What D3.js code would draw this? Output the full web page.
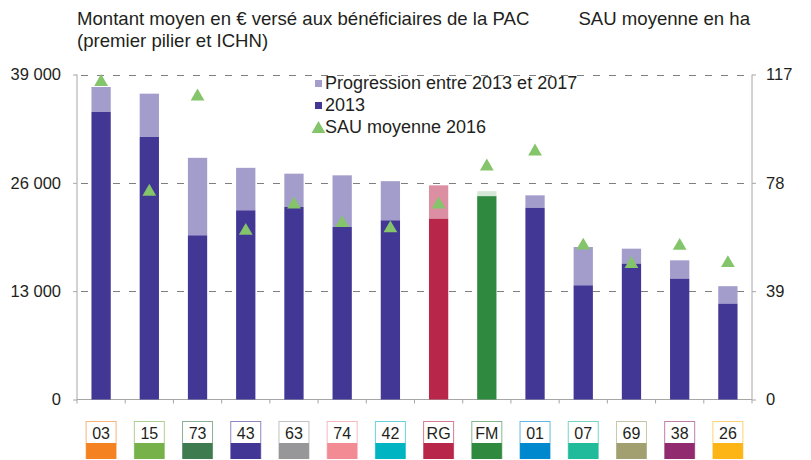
<!DOCTYPE html>
<html><head><meta charset="utf-8">
<script src="https://cdn.jsdelivr.net/npm/d3@7"></script>
<style>body{margin:0;background:#fff}svg{display:block}text{font-family:"Liberation Sans",Arial,sans-serif;fill:#231f20}</style>
</head><body><svg id="c" width="811" height="460"></svg>
<script>
const categories = ["03","15","73","43","63","74","42","RG","FM","01","07","69","38","26"];
const base2013   = [34500,31500,19700,22700,23100,20700,21500,21700,24400,23000,13700,16300,14500,11500];
const total2017  = [37500,36700,29000,27800,27100,26900,26200,25700,25000,24500,18300,18100,16700,13600];
const sau2016    = [114.3,74.8,109.1,60.7,70.2,63.5,61.6,70.2,83.9,89.3,55.4,48.8,55.3,49.1];
const leftTicks  = [0,13000,26000,39000];
const rightTicks = [0,39,78,117];
const boxColors  = ["#f58220","#77b14a","#3e7b4f","#433795","#97979a","#f28b94","#00b5c1","#b8274a","#2f8a3f","#0088cf","#1fbb9b","#a29f70","#922a6f","#fdb515"];
const baseColors = categories.map(c => c==="RG" ? "#b8274a" : c==="FM" ? "#2f8a3f" : "#433795");
const progColors = categories.map(c => c==="RG" ? "#dc8fa2" : c==="FM" ? "#d5e8d8" : "#a39dcb");
const legendItems = ["Progression entre 2013 et 2017","2013","SAU moyenne 2016"];

const svg = d3.select("#c");
const L = 77, R = 752, T = 74.5, B = 399.5;
const x = d3.scaleBand().domain(categories).range([L,R]).paddingInner(0.6).paddingOuter(0.3);
const y = d3.scaleLinear().domain([0,39000]).range([B,T]);
const y2 = d3.scaleLinear().domain([0,117]).range([B,T]);
const fmt = d => d3.format(",")(d).replace(/,/g," ");

// gridlines
svg.append("g").selectAll("line").data(leftTicks.filter(d=>d>0)).join("line")
  .attr("x1",L).attr("x2",R).attr("y1",d=>Math.round(y(d))+0.5).attr("y2",d=>Math.round(y(d))+0.5)
  .attr("stroke","#7f7f7f").attr("stroke-dasharray","7,9").attr("stroke-dashoffset",-4);

// axes
const axisCol = "#a6a6a6";
const gl = svg.append("g").attr("transform",`translate(${L},0)`)
  .call(d3.axisLeft(y).tickValues(leftTicks).tickFormat(fmt).tickSize(4).tickPadding(12));
const gr = svg.append("g").attr("transform",`translate(${R},0)`)
  .call(d3.axisRight(y2).tickValues(rightTicks).tickSize(4).tickPadding(10));
[gl,gr].forEach(g=>{
  g.select(".domain").attr("stroke",axisCol).attr("d", `M0,${T}V${B}`);
  g.selectAll(".tick line").attr("stroke",axisCol);
  g.selectAll(".tick text").attr("font-size",16.5).style("font-family","'Liberation Sans',Arial,sans-serif").attr("fill","#231f20");
});
// bottom axis
svg.append("line").attr("x1",L).attr("x2",R).attr("y1",B).attr("y2",B).attr("stroke",axisCol);
svg.append("g").selectAll("line").data(d3.range(categories.length+1)).join("line")
  .attr("x1",i=>L+i*x.step()).attr("x2",i=>L+i*x.step()).attr("y1",B).attr("y2",B+4).attr("stroke",axisCol);

// bars
const bars = svg.append("g");
categories.forEach((c,i)=>{
  bars.append("rect").attr("x",x(c)).attr("width",x.bandwidth())
    .attr("y",y(total2017[i])).attr("height",y(base2013[i])-y(total2017[i]))
    .attr("fill",progColors[i]);
  bars.append("rect").attr("x",x(c)).attr("width",x.bandwidth())
    .attr("y",y(base2013[i])).attr("height",B-y(base2013[i]))
    .attr("fill",baseColors[i]);
});

// triangles
const tri = d3.symbol().type(d3.symbolTriangle).size(82);
svg.append("g").selectAll("path").data(categories).join("path")
  .attr("d",tri).attr("fill","#84c46a")
  .attr("transform",(c,i)=>`translate(${x(c)+x.bandwidth()/2},${y2(sau2016[i])})`);

// category boxes
const boxes = svg.append("g");
categories.forEach((c,i)=>{
  const cx = x(c)+x.bandwidth()/2;
  boxes.append("rect").attr("x",cx-15).attr("y",421.5).attr("width",30).attr("height",37)
    .attr("fill","#fff").attr("stroke",boxColors[i]).attr("stroke-opacity",0.6);
  boxes.append("rect").attr("x",cx-15).attr("y",443).attr("width",30).attr("height",16)
    .attr("fill",boxColors[i]);
  boxes.append("text").attr("x",cx).attr("y",438.5).attr("text-anchor","middle")
    .attr("font-size",16).text(c);
});

// legend
const lg = svg.append("g");
lg.append("rect").attr("x",315).attr("y",80).attr("width",7).attr("height",7).attr("fill","#a39dcb");
lg.append("rect").attr("x",315).attr("y",102).attr("width",7).attr("height",7).attr("fill","#433795");
lg.append("path").attr("d",tri).attr("fill","#84c46a").attr("transform","translate(318.5,129)");
legendItems.forEach((t,i)=>{
  lg.append("text").attr("x",325).attr("y",89+i*22).attr("font-size",18).text(t);
});

// titles
svg.append("text").attr("x",77).attr("y",25).attr("font-size",18.6).text("Montant moyen en € versé aux bénéficiaires de la PAC");
svg.append("text").attr("x",77).attr("y",47).attr("font-size",18.6).text("(premier pilier et ICHN)");
svg.append("text").attr("x",750).attr("y",25).attr("font-size",18.6).attr("text-anchor","end").text("SAU moyenne en ha");
</script></body></html>
